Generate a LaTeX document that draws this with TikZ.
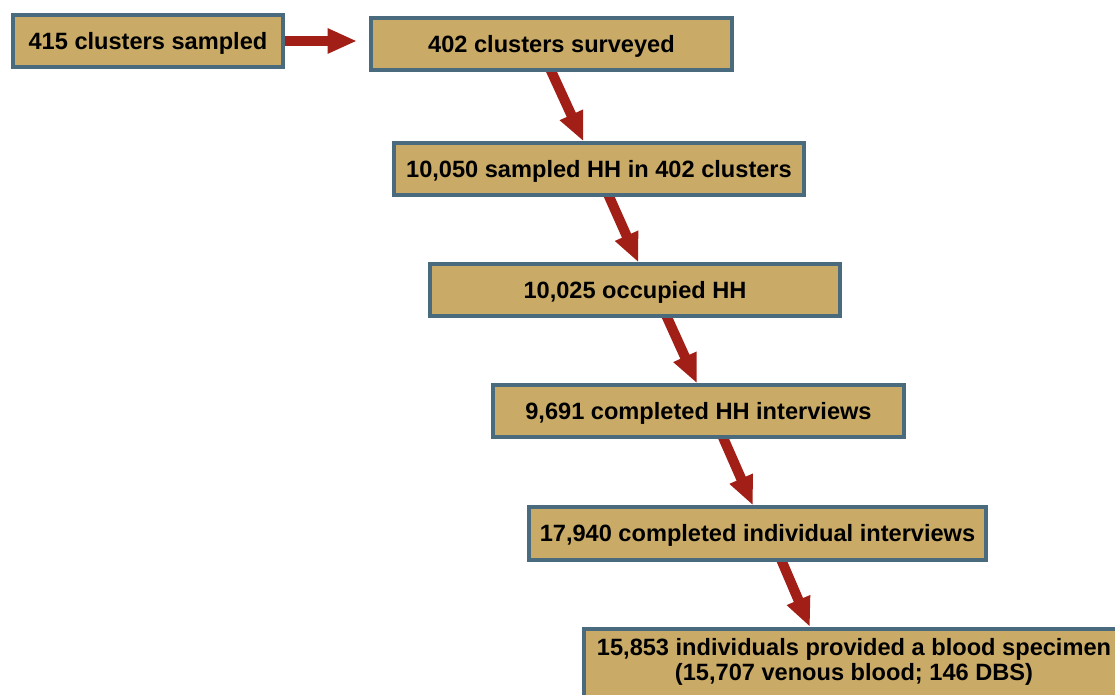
\documentclass[tikz,border=0pt]{standalone}
\usepackage{fontspec}
\setmainfont{Liberation Sans}
\usepackage{tikz}
\usetikzlibrary{arrows.meta,backgrounds}
\definecolor{cBox}{HTML}{C9AB67}
\definecolor{cBoxB}{HTML}{4A6B7E}
\definecolor{cArr}{HTML}{A21F17}
\def\px{0.75pt}
\tikzset{
  cbox/.style={draw=cBoxB, fill=cBox, line width=3pt, align=center, inner xsep=0pt,
               font=\bfseries\fontsize{17.7}{18.8}\selectfont, minimum width=#1*\px},
  cline/.style={cbox=#1, inner ysep=0pt, minimum height=52*\px, text height=12.7pt, text depth=0pt},
  carr/.style={-{Triangle[length=22pt,width=17.5pt]}, line width=7.5pt, draw=cArr},
}

\begin{document}
\begin{tikzpicture}[x=0.75pt,y=-0.75pt]
\clip (0,0) rectangle (1115,695);
% ---- the boxes, top to bottom
\node[cline=270] (b1) at (148,41) {415 clusters sampled};
\node[cline=361] (b2) at (551.5,44) {402 clusters surveyed};
\node[cline=410] (b3) at (599,169.5) {10,050 sampled HH in 402 clusters};
\node[cline=410] (b4) at (635,290.5) {10,025 occupied HH};
\node[cline=411] (b5) at (698.5,411.5) {9,691 completed HH interviews};
\node[cline=457] (b6) at (757.5,533.5) {17,940 completed individual interviews};
\node[cbox=540, inner ysep=9*\px, text depth=30pt, anchor=north] (b7) at (854,627)
  {15,853 individuals provided a blood specimen\\(15,707 venous blood; 146 DBS)};
% ---- arrows, kept under the boxes
\begin{scope}[on background layer]
  \draw[carr, shorten >=9pt] (b1.east) -- (b1.east -| b2.west);
  \foreach \i/\a/\j/\b in {b2/-2/b3/-11.6, b3/5.9/b4/2.6, b4/22.4/b5/-1.1,
                           b5/17.1/b6/-3.4, b6/16.4/b7/-33}
    \draw[carr] ([shift={(\a pt,4.5pt)}]\i.south) -- ([xshift=\b pt]\j.north);
\end{scope}
\end{tikzpicture}
\end{document}
